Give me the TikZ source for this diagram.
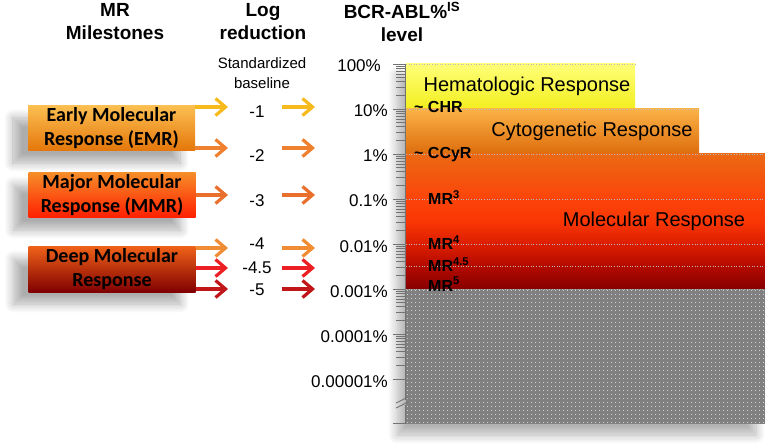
\documentclass[tikz,border=0pt]{standalone}
\usepackage{fontspec}
\setmainfont{Liberation Sans}
\newfontfamily\boxfont{Carlito}
\usepackage{xcolor}
\usetikzlibrary{arrows.meta,shadows.blur,patterns.meta}

\definecolor{emrT}{RGB}{252,190,80}  \definecolor{emrB}{RGB}{228,118,10}
\definecolor{mmrT}{RGB}{246,140,40}  \definecolor{mmrB}{RGB}{255,30,0}
\definecolor{dmrT}{RGB}{238,96,24}   \definecolor{dmrB}{RGB}{128,0,0}
\definecolor{hemT}{RGB}{255,255,120} \definecolor{hemB}{RGB}{242,238,30}
\definecolor{cytT}{RGB}{250,178,70}  \definecolor{cytB}{RGB}{222,108,12}
\definecolor{mrA}{RGB}{135,0,0}   \definecolor{mrB}{RGB}{180,10,0}
\definecolor{mrC}{RGB}{220,30,0}  \definecolor{mrD}{RGB}{250,55,5}
\definecolor{mrE}{RGB}{252,68,10} \definecolor{mrF}{RGB}{235,105,20}
\definecolor{arA}{RGB}{246,186,28} \definecolor{arB}{RGB}{238,128,48}
\definecolor{arC}{RGB}{232,112,44} \definecolor{arD}{RGB}{240,140,52}
\definecolor{arE}{RGB}{236,32,36}  \definecolor{arF}{RGB}{192,22,26}
\definecolor{dotgray}{RGB}{128,128,128}

% molecular band: 25bp = 0.001%, 75bp = 1%
\pgfdeclareverticalshading{mrshade}{100bp}{color(0bp)=(mrA); color(25bp)=(mrA);
  color(33.5bp)=(mrB); color(41.7bp)=(mrC); color(50.5bp)=(mrD); color(58.3bp)=(mrE);
  color(75bp)=(mrF); color(100bp)=(mrF)}

\begin{document}
\begin{tikzpicture}[x=1pt,y=-1pt,
  head/.style={font=\bfseries\fontsize{19}{23}\selectfont,align=center,inner sep=0pt},
  num/.style={font=\fontsize{17}{20}\selectfont,inner sep=0pt,anchor=base},
  pct/.style={font=\fontsize{17}{20}\selectfont,inner sep=0pt,anchor=base east},
  zone/.style={font=\fontsize{20}{24}\selectfont,inner sep=0pt,anchor=base},
  lvl/.style={font=\bfseries\fontsize{16}{19}\selectfont,inner sep=0pt,anchor=base west},
  milestone/.style={minimum width=167pt,minimum height=45pt,inner sep=0pt,align=center,
    font=\boxfont\bfseries\fontsize{20}{24}\selectfont,
    blur shadow={shadow xshift=-15pt,shadow yshift=-12pt,shadow blur radius=9pt,
      shadow blur steps=12,shadow opacity=32}},
  arr/.style={line width=3.2pt,-{Straight Barb[length=10pt,width=17pt]}},
  sep/.style={gray!55,dotted,line width=0.6pt},
  ruler/.style={draw=black!55,line width=0.9pt}]
  \useasboundingbox (0,0) rectangle (765,446);
  % log scale: 1 decade = 45pt, 100% at y=64
  \def\Y#1{ {64+45*(2-(#1))} }

  % headings
  \node[head] (hmr) at (115,22) {MR\\Milestones};
  \node[head] (hlog) at (263,22) {Log\\reduction};
  \node[head] (hbcr) at (402,22) {BCR-ABL\%\textsuperscript{IS}\\level};
  \node[font=\fontsize{15}{20}\selectfont,align=center,inner sep=0pt] (std) at (262,73.5) {Standardized\\baseline};

  % milestone boxes
  \node[milestone,top color=emrT,bottom color=emrB] (emr) at (111.5,128.5) {Early Molecular\\Response (EMR)};
  \node[milestone,top color=mmrT,bottom color=mmrB] (mmr) at (112,195.5) {Major Molecular\\Response (MMR)};
  \node[milestone,top color=dmrT,bottom color=dmrB] (dmr) at (112,269.5) {Deep Molecular\\Response};

  % chart area
  \path[blur shadow={shadow xshift=-9pt,shadow yshift=-11pt,shadow blur radius=9pt,
      shadow blur steps=12,shadow opacity=30}]
    (406,64) -- (635,64) -- (635,109) -- (699,109) -- (699,154) -- (765,154) -- (765,424) -- (406,424) -- cycle;
  \shade[top color=hemT,bottom color=hemB] (406,\Y{2}) rectangle (635,\Y{1});
  \shade[top color=cytT,bottom color=cytB] (406,\Y{1}) rectangle (699,\Y{0});
  \shade[shading=mrshade] (406,\Y{0}) rectangle (765,\Y{-3});
  \fill[dotgray] (406,\Y{-3}) rectangle (765,424);
  \fill[pattern={Dots[distance=4pt,radius=0.6pt]},pattern color=white!85!gray] (406,\Y{-3}) rectangle (765,424);
  \foreach \y/\xe in {2/635,1/699,0/765,-1/765,-2/765,-2.5/765,-3/765}
    \draw[sep] (406,\Y{\y}) -- (\xe,\Y{\y});

  % axis with log ticks
  \draw[ruler] (393,64) -- (405,64);
  \foreach \d in {2,1,...,-4} \foreach \m in {1,...,9} {
    \pgfmathsetmacro\ty{64+45*(2-\d)+45*(1-log10(\m))}
    \pgfmathsetmacro\tx{\m==1 ? 393 : 396}
    \draw[ruler] (\tx,\ty) -- (405,\ty);
  }
  \draw[ruler] (405,64) -- (405,400);
  \draw[ruler] (405,405) -- (405,423) -- (393,423);
  \draw[ruler] (396,403) -- (408,397);
  \draw[ruler] (396,408) -- (408,402);

  % percent labels
  \node[pct] (pc1) at (381,72) {100\%};
  \foreach \i/\L/\t in {2/1/10,3/0/1,4/-1/0.1,5/-2/0.01,6/-3/0.001,7/-4/0.0001,8/-5/0.00001}
    \node[pct] (pc\i) at (388,{72+45*(2-\L)}) {\t\%};

  % zone names and levels
  \node[zone] (hem) at (527,92) {Hematologic Response};
  \node[zone] (cyt) at (592,137) {Cytogenetic Response};
  \node[zone] (mol) at (654,227) {Molecular Response};
  \node[lvl] (chr) at (414,113) {\textasciitilde\ CHR};
  \node[lvl] (ccyr) at (414,159) {\textasciitilde\ CCyR};
  \node[lvl] (mr3) at (428,205) {MR\textsuperscript{3}};
  \node[lvl] (mr4) at (428,250) {MR\textsuperscript{4}};
  \node[lvl] (mr45) at (428,272) {MR\textsuperscript{4.5}};
  \node[lvl] (mr5) at (428,291) {MR\textsuperscript{5}};

  % log reductions and arrows
  \foreach \i/\t/\b/\y/\c/\yb in {1/-1/emr/107/arA/118, 2/-2/emr/148/arB/162, 3/-3/mmr/195/arC/207,
      4/-4/dmr/248/arD/250, 5/-4.5/dmr/268/arE/273, 6/-5/dmr/289/arF/295} {
    \node[num] (n\i) at (257,\yb) {\t};
    \coordinate (lb\i) at (228,\y);
    \coordinate (ra\i) at (282,\y);
    \coordinate (rb\i) at (315,\y);
    \draw[arr,\c] (\b.east |- lb\i) -- (lb\i);
    \draw[arr,\c] (ra\i) -- (rb\i);
  }
\end{tikzpicture}
\end{document}
